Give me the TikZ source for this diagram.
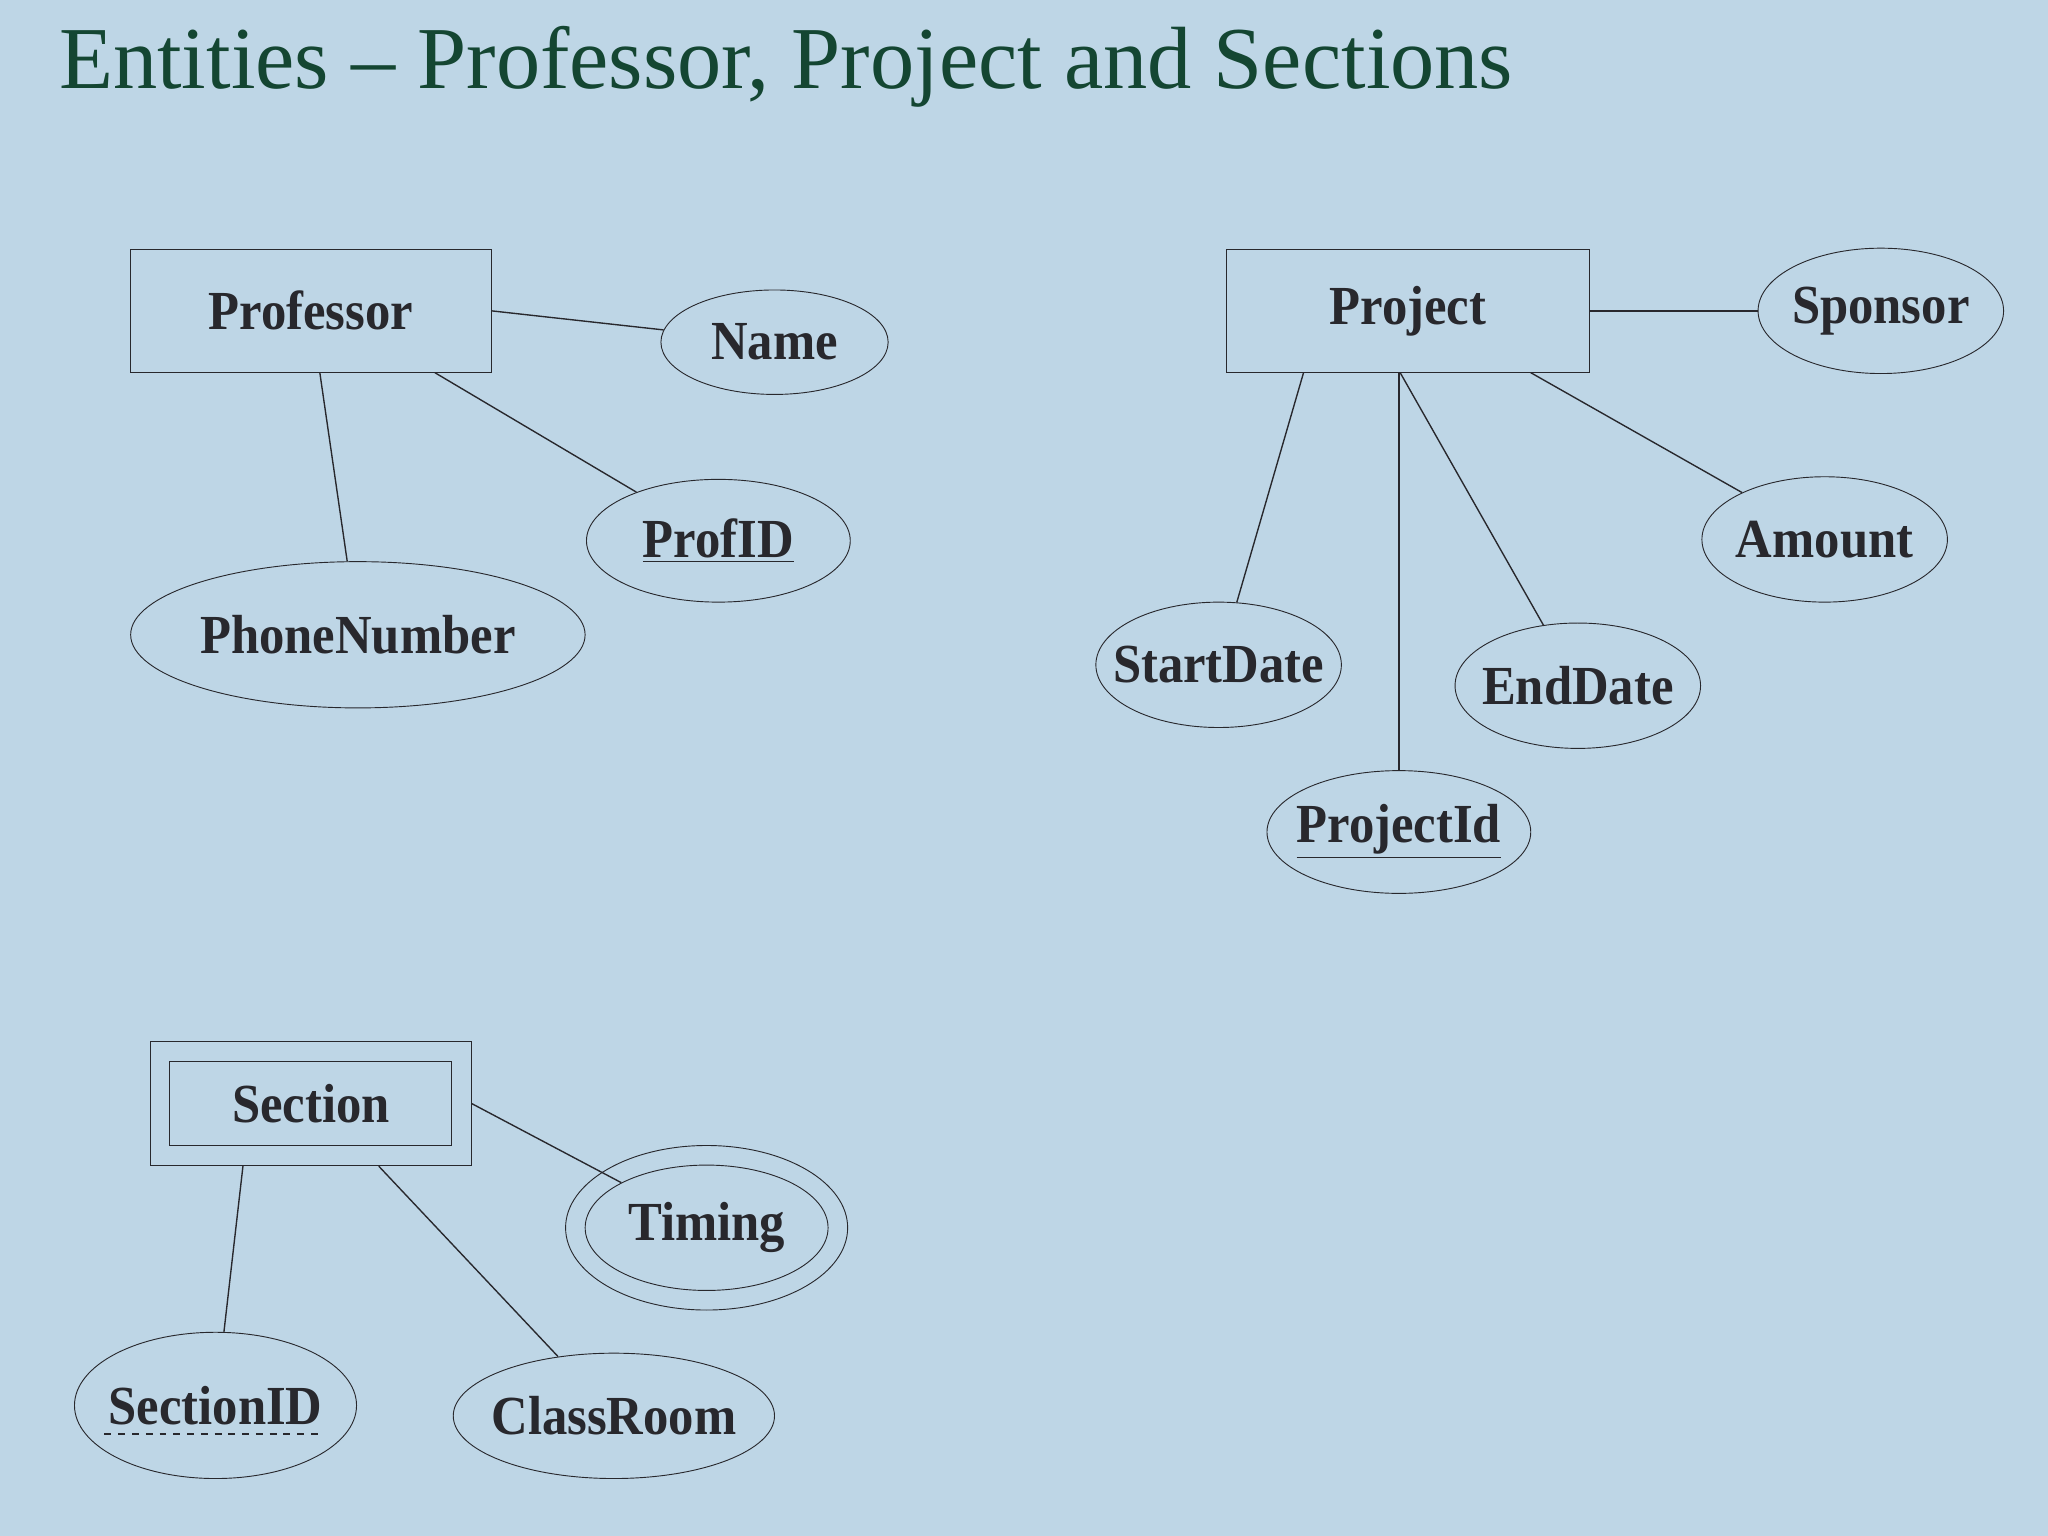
\documentclass[tikz,border=0pt]{standalone}
\usepackage{fontspec}
\setmainfont{Liberation Serif}
\usetikzlibrary{shapes.geometric}
\definecolor{bg}{RGB}{190,214,230}
\definecolor{ttl}{RGB}{20,70,50}
\definecolor{ink}{RGB}{40,40,45}
\newcommand{\lbl}[1]{\scalebox{0.92}[1]{#1}}
\begin{document}
\begin{tikzpicture}[x=0.02cm,y=-0.02cm,
  ent/.style={draw=ink,rectangle,inner sep=0,font=\fontsize{24}{28}\selectfont\bfseries,text=ink},
  att/.style={draw=ink,ellipse,inner sep=0,label={[font=\fontsize{24}{28}\selectfont\bfseries,text=ink]center:#1}},
  ln/.style={draw=ink,line width=0.6pt}]
\fill[bg] (0,0) rectangle (1568,1176);
\useasboundingbox (0,0) rectangle (1568,1176);
\node[anchor=base west,text=ttl,font=\fontsize{38.5}{44}\selectfont,inner sep=0] (title) at (45,68) {Entities – Professor, Project and Sections};
% Professor
\node[ent,minimum width=5.52cm,minimum height=1.88cm] (prof) at (238,238) {\lbl{Professor}};
\node[att={\lbl{Name}},minimum width=3.48cm,minimum height=1.6cm] (name) at (593,262) {};
\node[att={\lbl{\underline{ProfID}}},minimum width=4.04cm,minimum height=1.88cm] (profid) at (550,414) {};
\node[att={\lbl{PhoneNumber}},minimum width=6.96cm,minimum height=2.24cm] (phone) at (274,486) {};
\draw[ln] (prof.east) -- (name);
\draw[ln] ([xshift=1.9cm]prof.south) -- (profid);
\draw[ln] (prof) -- (phone);
% Project
\node[ent,minimum width=5.56cm,minimum height=1.88cm] (proj) at (1078,238) {\lbl{Project}};
\node[att={\lbl{Sponsor}},minimum width=3.76cm,minimum height=1.92cm] (spons) at (1440,238) {};
\node[att={\lbl{Amount}},minimum width=3.76cm,minimum height=1.92cm] (amt) at (1397,413) {};
\node[att={\lbl{StartDate}},minimum width=3.76cm,minimum height=1.92cm] (sd) at (933,509) {};
\node[att={\lbl{EndDate}},minimum width=3.76cm,minimum height=1.92cm] (ed) at (1208,525) {};
\node[att={\lbl{\underline{ProjectId}}},minimum width=4.04cm,minimum height=1.88cm] (pid) at (1071,637) {};
\draw[ln] (proj) -- (spons);
\draw[ln] ([xshift=1.88cm]proj.south) -- (amt);
\draw[ln] ([xshift=-1.6cm]proj.south) -- (sd);
\draw[ln] ([xshift=-0.12cm]proj.south) -- (ed);
\draw[ln] (proj.south -| pid) -- (pid);
% Section
\node[ent,minimum width=4.92cm,minimum height=1.9cm] (sec) at (238,845) {};
\node[ent,minimum width=4.32cm,minimum height=1.28cm] (seci) at (238,845) {\lbl{Section}};
\node[att={},minimum width=4.32cm,minimum height=2.52cm] (tim) at (541,940) {};
\node[att={\lbl{Timing}},minimum width=3.72cm,minimum height=1.92cm] (timi) at (541,940) {};
\node[att={\lbl{SectionID}},minimum width=4.32cm,minimum height=2.24cm] (sid) at (165,1076) {};
\node[att={\lbl{ClassRoom}},minimum width=4.92cm,minimum height=1.92cm] (cr) at (470,1084) {};
\draw[ln,dashed,line width=0.8pt] (80,1098) -- (244,1098);
\draw[ln] (sec.east) -- (timi);
\draw[ln] ([xshift=-1.04cm]sec.south) -- (sid);
\draw[ln] ([xshift=1.04cm]sec.south) -- (cr);
\end{tikzpicture}
\end{document}
